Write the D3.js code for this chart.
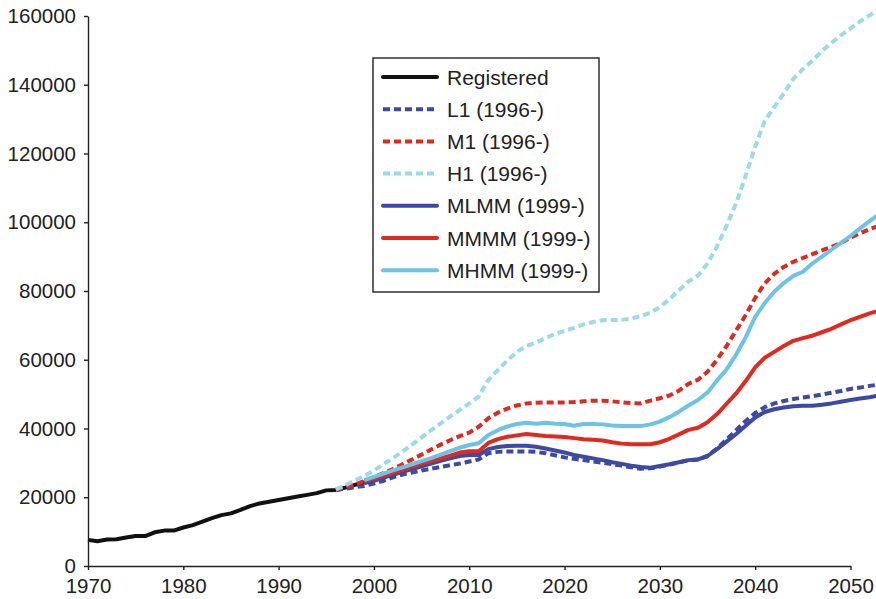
<!DOCTYPE html>
<html>
<head>
<meta charset="utf-8">
<script src="https://cdn.jsdelivr.net/npm/d3@7"></script>
<style>
  html, body { margin: 0; padding: 0; background: #fff; }
  #chart { width: 876px; height: 599px; }
  text { font-family: "Liberation Sans", Arial, sans-serif; fill: #222; }
</style>
</head>
<body>
<div id="chart"></div>
<script>
const width = 876;
const height = 599;

// values in thousands, one per year from the start year
const registeredStart = 1970;
const registered = [7.6, 7.2, 7.7, 7.8, 8.3, 8.7, 8.7, 9.8, 10.3, 10.3, 11.2, 11.9, 12.9, 13.9, 14.8,
  15.3, 16.3, 17.4, 18.2, 18.7, 19.2, 19.7, 20.2, 20.7, 21.2, 22.0, 22.1, 22.8, 23.6, 24.3];

const scen1Start = 1996;
const l1 = [22.1, 22.5, 22.9, 23.3, 24.0, 24.8, 25.8, 26.6, 27.2, 27.8, 28.3, 28.8, 29.3, 29.8, 30.4,
  31.0, 32.8, 33.2, 33.3, 33.3, 33.3, 33.2, 32.8, 32.2, 31.6, 31.2, 30.8, 30.4, 30.0, 29.6, 29.2,
  28.7, 28.3, 28.4, 28.9, 29.5, 30.1, 30.8, 31.0, 32.0, 34.2, 36.8, 39.5, 42.2, 44.5, 46.2, 47.3,
  48.0, 48.6, 49.0, 49.4, 49.9, 50.4, 50.9, 51.5, 51.9, 52.4, 52.8];
const m1 = [22.1, 22.9, 23.8, 24.7, 25.8, 27.0, 28.2, 29.6, 31.0, 32.4, 33.9, 35.3, 36.6, 37.8, 38.8,
  40.5, 43.0, 44.6, 45.8, 46.7, 47.3, 47.5, 47.6, 47.6, 47.6, 47.7, 47.9, 48.1, 48.1, 47.9, 47.6,
  47.4, 47.3, 48.1, 48.8, 49.6, 51.0, 53.0, 54.2, 56.5, 60.0, 64.0, 68.5, 73.0, 78.0, 82.2, 85.0,
  87.0, 88.5, 89.6, 90.7, 91.8, 92.8, 94.0, 95.5, 96.8, 98.0, 99.0];
const h1 = [22.3, 23.5, 24.9, 26.2, 27.8, 29.6, 31.4, 33.3, 35.3, 37.4, 39.5, 41.5, 43.5, 45.4, 47.3,
  49.3, 54.1, 57.0, 59.8, 62.3, 64.0, 65.0, 66.3, 67.5, 68.4, 69.3, 70.3, 71.0, 71.5, 71.6, 71.6,
  72.0, 72.7, 73.7, 75.3, 77.6, 80.2, 82.8, 84.5, 88.0, 93.0, 99.0, 105.5, 113.5, 122.0, 129.5,
  133.5, 137.5, 141.7, 144.5, 147.0, 149.8, 152.2, 154.4, 156.4, 158.4, 160.2, 162.0];

const scen2Start = 1999;
const mlmm = [24.1, 24.8, 25.7, 26.5, 27.4, 28.2, 29.0, 29.8, 30.6, 31.3, 32.0, 32.3, 32.3, 34.0,
  34.6, 34.9, 35.0, 35.0, 34.7, 34.2, 33.6, 33.0, 32.3, 31.8, 31.3, 30.8, 30.2, 29.7, 29.2, 28.8,
  28.6, 29.1, 29.6, 30.2, 30.8, 31.0, 32.0, 34.0, 36.2, 38.4, 40.8, 43.2, 44.8, 45.6, 46.1, 46.5,
  46.6, 46.6, 46.9, 47.3, 47.8, 48.3, 48.7, 49.1, 49.6];
const mmmm = [24.6, 25.4, 26.3, 27.1, 28.0, 28.9, 29.7, 30.5, 31.3, 32.1, 33.0, 33.4, 33.4, 35.8,
  36.9, 37.6, 38.0, 38.4, 38.1, 37.8, 37.7, 37.5, 37.2, 36.9, 36.7, 36.5, 36.0, 35.6, 35.4, 35.4,
  35.4, 36.0, 37.0, 38.3, 39.6, 40.2, 41.8, 44.2, 47.2, 50.2, 53.8, 57.8, 60.6, 62.3, 64.0, 65.5,
  66.3, 67.0, 68.0, 69.0, 70.3, 71.5, 72.5, 73.5, 74.3];
const mhmm = [25.0, 25.9, 26.9, 27.8, 28.7, 29.6, 30.5, 31.4, 32.4, 33.4, 34.4, 35.2, 35.7, 38.1,
  39.5, 40.6, 41.3, 41.7, 41.4, 41.7, 41.4, 41.3, 40.8, 41.3, 41.3, 41.2, 40.9, 40.7, 40.7, 40.7,
  41.2, 42.0, 43.3, 44.9, 46.7, 48.3, 50.5, 54.0, 57.2, 61.5, 66.5, 72.5, 76.5, 79.8, 82.3, 84.4,
  85.6, 88.0, 90.0, 92.0, 94.0, 96.0, 98.2, 100.3, 102.3];

const xTicks = [1970, 1980, 1990, 2000, 2010, 2020, 2030, 2040, 2050];
const yTicks = [0, 20000, 40000, 60000, 80000, 100000, 120000, 140000, 160000];

const series = [
  { name: "Registered", start: registeredStart, values: registered, color: "#111111", dash: null },
  { name: "L1 (1996-)", start: scen1Start, values: l1, color: "#3c4aa6", dash: "7,4" },
  { name: "M1 (1996-)", start: scen1Start, values: m1, color: "#e0291f", dash: "7,4" },
  { name: "H1 (1996-)", start: scen1Start, values: h1, color: "#9adbe8", dash: "7,4" },
  { name: "MLMM (1999-)", start: scen2Start, values: mlmm, color: "#3c4aa6", dash: null },
  { name: "MMMM (1999-)", start: scen2Start, values: mmmm, color: "#e0291f", dash: null },
  { name: "MHMM (1999-)", start: scen2Start, values: mhmm, color: "#6cc3e6", dash: null },
];

const x = d3.scaleLinear().domain([1970, 2050]).range([88, 850.5]);
const y = d3.scaleLinear().domain([0, 160000]).range([566, 16]);

const svg = d3.select("#chart").append("svg")
  .attr("width", width)
  .attr("height", height);

const line = d3.line()
  .x((d) => x(d.year))
  .y((d) => y(d.value * 1000));

// lines
series.forEach((s) => {
  const pts = s.values.map((v, i) => ({ year: s.start + i, value: v }));
  svg.append("path")
    .datum(pts)
    .attr("fill", "none")
    .attr("stroke", s.color)
    .attr("stroke-width", 4)
    .attr("stroke-linejoin", "round")
    .attr("stroke-dasharray", s.dash)
    .attr("d", line);
});

// axes
const xAxis = svg.append("g")
  .attr("transform", `translate(0,${y(0)})`)
  .call(d3.axisBottom(x).tickValues(xTicks).tickFormat(d3.format("d")).tickSize(4).tickSizeOuter(0).tickPadding(8));

const yAxis = svg.append("g")
  .attr("transform", `translate(${x(1970)},0)`)
  .call(d3.axisLeft(y).tickValues(yTicks).tickFormat(d3.format("d")).tickSize(4).tickSizeOuter(0).tickPadding(8));

[xAxis, yAxis].forEach((g) => {
  g.select(".domain").attr("stroke", "#222").attr("stroke-width", 1.4);
  g.selectAll(".tick line").attr("stroke", "#222").attr("stroke-width", 1.4);
  g.selectAll(".tick text")
    .attr("fill", "#222")
    .style("font-family", '"Liberation Sans", Arial, sans-serif')
    .style("font-size", "20.5px");
});

// legend
const legend = svg.append("g");
legend.append("rect")
  .attr("x", 373).attr("y", 58)
  .attr("width", 226).attr("height", 234)
  .attr("fill", "#fff")
  .attr("stroke", "#222")
  .attr("stroke-width", 1.4);

series.forEach((s, i) => {
  const ly = 77 + i * 32.2;
  legend.append("line")
    .attr("x1", 383).attr("x2", 437)
    .attr("y1", ly).attr("y2", ly)
    .attr("stroke", s.color)
    .attr("stroke-width", 4)
    .attr("stroke-linecap", s.dash ? "butt" : "round")
    .attr("stroke-dasharray", s.dash);
  legend.append("text")
    .attr("x", 447)
    .attr("y", ly)
    .attr("dy", "0.36em")
    .style("font-size", "21px")
    .text(s.name);
});
</script>
</body>
</html>
